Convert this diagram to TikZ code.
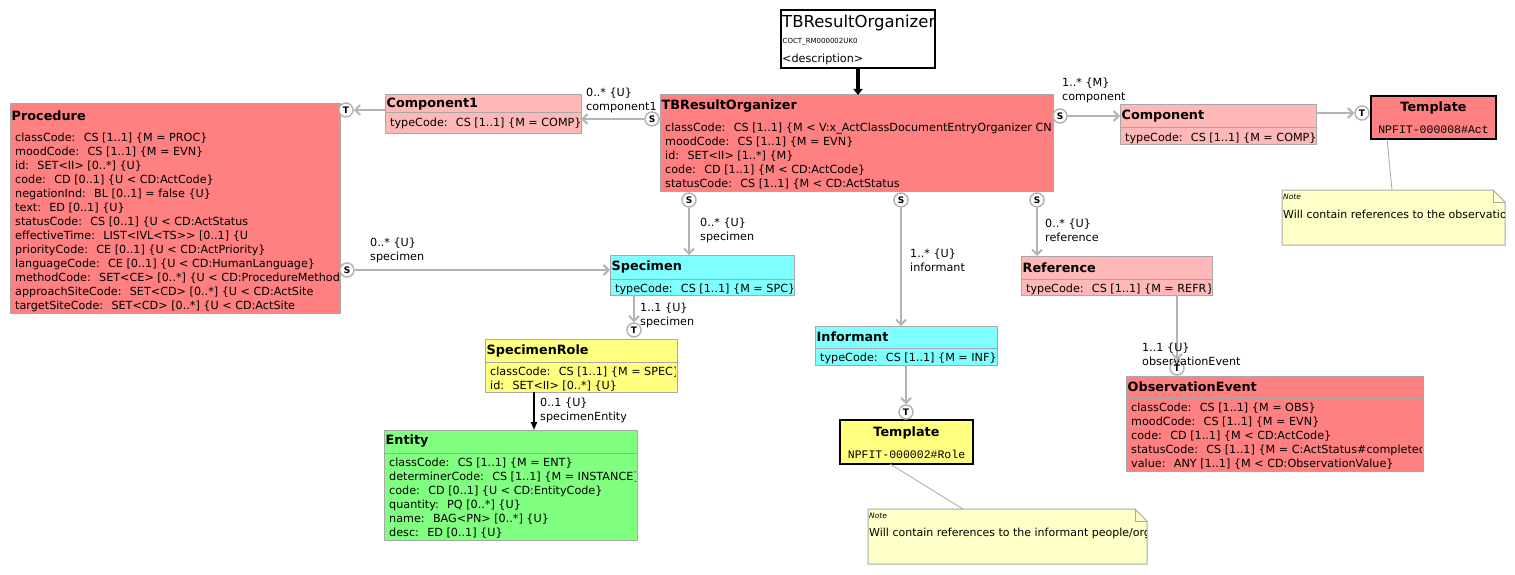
\documentclass[tikz,border=0pt]{standalone}
\usepackage{fontspec}
\setmainfont{DejaVu Sans}
\setmonofont{Liberation Mono}
\usetikzlibrary{arrows.meta}
\definecolor{salmon}{HTML}{FF8080}
\definecolor{lpink}{HTML}{FFB8B8}
\definecolor{cyanb}{HTML}{80FFFF}
\definecolor{yellowb}{HTML}{FFFF80}
\definecolor{greenb}{HTML}{80FF80}
\definecolor{notefill}{HTML}{FFFFC8}
\definecolor{bordergray}{HTML}{A8A8A8}
\definecolor{conngray}{HTML}{B4B4B4}
\tikzset{
  clsbox/.style={draw=bordergray, line width=1pt, inner sep=0pt, outer sep=0pt, rectangle},
  clsline/.style={draw=bordergray, line width=1pt},
  clstitle/.style={font=\fontsize{12.8}{14}\selectfont\bfseries, inner sep=0pt, anchor=west},
  clsattr/.style={font=\fontsize{11.2}{14}\selectfont, inner sep=0pt, anchor=north west, align=left},
  circ/.style={circle, draw=conngray, line width=1.5pt, fill=white, minimum size=14pt, inner sep=0pt, font=\fontsize{9}{9}\selectfont\bfseries},
  conn/.style={draw=conngray, line width=2pt, -{Straight Barb[length=5pt,width=10pt]}},
  blk/.style={draw=black, line width=2pt, -{Triangle[length=8pt,width=6pt]}},
  lbl/.style={font=\fontsize{11.2}{14}\selectfont, align=left, anchor=west, inner sep=0pt},
  tmpl/.style={draw=black, line width=1.2pt, inner sep=0pt, outer sep=0pt, rectangle},
  notetie/.style={draw=bordergray, line width=0.8pt},
}
\newcommand{\lb}{\{}
\newcommand{\rb}{\}}
% name, x, y, w, h, header height, fill, title, lines
\newcommand{\ucls}[9]{%
  \node[clsbox, fill=#7, minimum width=#4pt, minimum height=#5pt, anchor=north west] (#1) at (#2,#3) {};
  \draw[clsline] ([yshift=-#6pt]#1.north west) -- ([yshift=-#6pt]#1.north east);
  \begin{scope}
    \clip ([xshift=1pt,yshift=-1pt]#1.north west) rectangle ([xshift=-2pt,yshift=1pt]#1.south east);
    \node[clstitle] (#1-t) at ([xshift=1.5pt,yshift=-#6pt/2]#1.north west) {#8};
    \node[clsattr] (#1-a) at ([xshift=5pt,yshift={-#6pt-3.2pt}]#1.north west) {\strut #9};
  \end{scope}}
% name, x, y, w, h, text
\newcommand{\unote}[6]{%
  \node[inner sep=0pt, outer sep=0pt, minimum width=#4pt, minimum height=#5pt, anchor=north west] (#1) at (#2,#3) {};
  \draw[draw=bordergray, fill=notefill, line width=1pt] (#1.north west) -- ([xshift=-12pt]#1.north east) -- ([yshift=-12pt]#1.north east) -- (#1.south east) -- (#1.south west) -- cycle;
  \draw[draw=bordergray, line width=0.8pt] ([xshift=-12pt]#1.north east) -- ([xshift=-12pt,yshift=-12pt]#1.north east) -- ([yshift=-12pt]#1.north east);
  \node[font=\fontsize{7.5}{8}\selectfont\itshape, anchor=west, inner sep=0pt] (#1-h) at ([xshift=1pt,yshift=-7pt]#1.north west) {Note};
  \begin{scope}
    \clip ([yshift=-12pt]#1.north west) rectangle ([xshift=-1pt]#1.south east);
    \node[font=\fontsize{11}{14}\selectfont, anchor=west, inner sep=0pt] (#1-x) at ([xshift=1pt,yshift=-24pt]#1.north west) {#6};
  \end{scope}}
\begin{document}
\begin{tikzpicture}[x=1pt, y=-1pt]
\useasboundingbox (0,0) rectangle (1515,575);

% ---------- title box
\node[draw=black, line width=2pt, fill=white, minimum width=154pt, minimum height=58pt, anchor=north west, inner sep=0pt, outer sep=0pt] (title) at (781,10) {};
\node[anchor=west, inner sep=0pt, font=\fontsize{16.5}{18}\selectfont] (title-n) at ([xshift=1pt,yshift=-12.5pt]title.north west) {TBResultOrganizer};
\node[anchor=west, inner sep=0pt, font=\fontsize{7}{8}\selectfont] (title-c) at ([xshift=1.5pt,yshift=-32pt]title.north west) {COCT\_RM000002UK0};
\node[anchor=west, inner sep=0pt, font=\fontsize{11.2}{13}\selectfont] (title-d) at ([xshift=1pt,yshift=-49.5pt]title.north west) {<description>};

% ---------- classes
\ucls{proc}{10}{104}{330}{209}{24}{salmon}{Procedure}{%
classCode:~ CS [1..1] \lb M = PROC\rb\\
moodCode:~ CS [1..1] \lb M = EVN\rb\\
id:~ SET<II> [0..*] \lb U\rb\\
code:~ CD [0..1] \lb U < CD:ActCode\rb\\
negationInd:~ BL [0..1] = false \lb U\rb\\
text:~ ED [0..1] \lb U\rb\\
statusCode:~ CS [0..1] \lb U < CD:ActStatus\\
effectiveTime:~ LIST<IVL<TS>{}> [0..1] \lb U\\
priorityCode:~ CE [0..1] \lb U < CD:ActPriority\rb\\
languageCode:~ CE [0..1] \lb U < CD:HumanLanguage\rb\\
methodCode:~ SET<CE> [0..*] \lb U < CD:ProcedureMethod\\
approachSiteCode:~ SET<CD> [0..*] \lb U < CD:ActSite\\
targetSiteCode:~ SET<CD> [0..*] \lb U < CD:ActSite}

\ucls{comp1}{385}{95}{196}{39}{18}{lpink}{Component1}{typeCode:~ CS [1..1] \lb M = COMP\rb}

\ucls{tbr}{660}{95}{393}{96}{23}{salmon}{TBResultOrganizer}{%
classCode:~ CS [1..1] \lb M < V:x\_ActClassDocumentEntryOrganizer CNE\rb\\
moodCode:~ CS [1..1] \lb M = EVN\rb\\
id:~ SET<II> [1..*] \lb M\rb\\
code:~ CD [1..1] \lb M < CD:ActCode\rb\\
statusCode:~ CS [1..1] \lb M < CD:ActStatus}

\ucls{comp}{1120}{105}{196}{40}{23}{lpink}{Component}{typeCode:~ CS [1..1] \lb M = COMP\rb}

\ucls{spec}{610}{255}{184}{40}{24}{cyanb}{Specimen}{typeCode:~ CS [1..1] \lb M = SPC\rb}

\ucls{specrole}{485}{339}{192}{53}{23}{yellowb}{SpecimenRole}{%
classCode:~ CS [1..1] \lb M = SPEC\rb\\
id:~ SET<II> [0..*] \lb U\rb}

\ucls{entity}{384}{430}{253}{110}{23}{greenb}{Entity}{%
classCode:~ CS [1..1] \lb M = ENT\rb\\
determinerCode:~ CS [1..1] \lb M = INSTANCE\rb\\
code:~ CD [0..1] \lb U < CD:EntityCode\rb\\
quantity:~ PQ [0..*] \lb U\rb\\
name:~ BAG<PN> [0..*] \lb U\rb\\
desc:~ ED [0..1] \lb U\rb}

\ucls{informant}{815}{326}{182}{39}{22}{cyanb}{Informant}{typeCode:~ CS [1..1] \lb M = INF\rb}

\ucls{reference}{1021}{256}{191}{39}{23}{lpink}{Reference}{typeCode:~ CS [1..1] \lb M = REFR\rb}

\ucls{obsevent}{1126}{376}{297}{95}{22}{salmon}{ObservationEvent}{%
classCode:~ CS [1..1] \lb M = OBS\rb\\
moodCode:~ CS [1..1] \lb M = EVN\rb\\
code:~ CD [1..1] \lb M < CD:ActCode\rb\\
statusCode:~ CS [1..1] \lb M = C:ActStatus\#completed\rb\\
value:~ ANY [1..1] \lb M < CD:ObservationValue\rb}

% ---------- templates
\node[tmpl, fill=salmon, minimum width=125pt, minimum height=43pt, anchor=north west] (tmplA) at (1371,96) {};
\node[font=\fontsize{12.8}{14}\selectfont\bfseries, inner sep=0pt] (tmplA-t) at ([yshift=-12pt]tmplA.north) {Template};
\node[font=\fontsize{11.5}{14}\selectfont\ttfamily, inner sep=0pt] (tmplA-c) at ([yshift=-34pt]tmplA.north) {NPFIT-000008\#Act};

\node[tmpl, fill=yellowb, minimum width=133pt, minimum height=44pt, anchor=north west] (tmplB) at (840,420) {};
\node[font=\fontsize{12.8}{14}\selectfont\bfseries, inner sep=0pt] (tmplB-t) at ([yshift=-13pt]tmplB.north) {Template};
\node[font=\fontsize{11.5}{14}\selectfont\ttfamily, inner sep=0pt] (tmplB-c) at ([yshift=-34pt]tmplB.north) {NPFIT-000002\#Role};

% ---------- notes
\unote{noteA}{1282}{190}{223}{55}{Will contain references to the observations}
\unote{noteB}{868}{509}{279}{55}{Will contain references to the informant people/organisations}
\draw[notetie] ([xshift=16pt]tmplA.south west) -- ([xshift=110pt]noteA.north west);
\draw[notetie] ([xshift=50pt]tmplB.south west) -- ([xshift=95pt]noteB.north west);

% ---------- connectors
\draw[draw=black, line width=3.5pt, -{Triangle[length=6pt,width=9pt]}] (title.south) -- (title.south |- tbr.north);

\node[circ] (sL) at (652,119) {S};
\node[circ] (tProc) at (346,110) {T};
\node[circ] (sProc) at (347,270) {S};
\node[circ] (sSpec) at (689,200) {S};
\node[circ] (sInf) at (901,200) {S};
\node[circ] (sRef) at (1037,200) {S};
\node[circ] (sComp) at (1060,116) {S};
\node[circ] (tTmplA) at (1362,113) {T};
\node[circ] (tSR) at (634,330) {T};
\node[circ] (tTmplB) at (906,412) {T};

\draw[conn] (sL.west) -- (sL.west -| comp1.east);
\draw[conn] (comp1.west |- tProc) -- (tProc.east);
\draw[conn] (sProc.east) -- (sProc -| spec.west);
\draw[conn] (sSpec.south) -- (sSpec |- spec.north);
\draw[conn] (tSR |- spec.south) -- (tSR.north);
\draw[conn] (sInf.south) -- (sInf |- informant.north);
\draw[conn] (tTmplB |- informant.south) -- (tTmplB.north);
\draw[conn] (sRef.south) -- (sRef |- reference.north);
\draw[conn] (sComp.east) -- (sComp -| comp.west);
\draw[conn] (comp.east |- tTmplA) -- (tTmplA.west);
\coordinate (se) at (534,400);
\draw[blk] (se |- specrole.south) -- (se |- entity.north);

% ---------- labels
\node[lbl] (l1) at (586,100) {0..* \lb U\rb\\component1};
\node[lbl] (l2) at (1062,90) {1..* \lb M\rb\\component};
\node[lbl] (l3) at (370,250) {0..* \lb U\rb\\specimen};
\node[lbl] (l4) at (700,230) {0..* \lb U\rb\\specimen};
\node[lbl] (l5) at (640,315) {1..1 \lb U\rb\\specimen};
\node[lbl] (l6) at (540,410) {0..1 \lb U\rb\\specimenEntity};
\node[lbl] (l7) at (910,260) {1..* \lb U\rb\\informant};
\node[lbl] (l8) at (1045,230) {0..* \lb U\rb\\reference};

\node[circ] (tObs) at (1177,368) {T};
\draw[conn] (tObs |- reference.south) -- (tObs.north);
\node[lbl] (l9) at (1142,354) {1..1 \lb U\rb\\observationEvent};
\end{tikzpicture}
\end{document}
